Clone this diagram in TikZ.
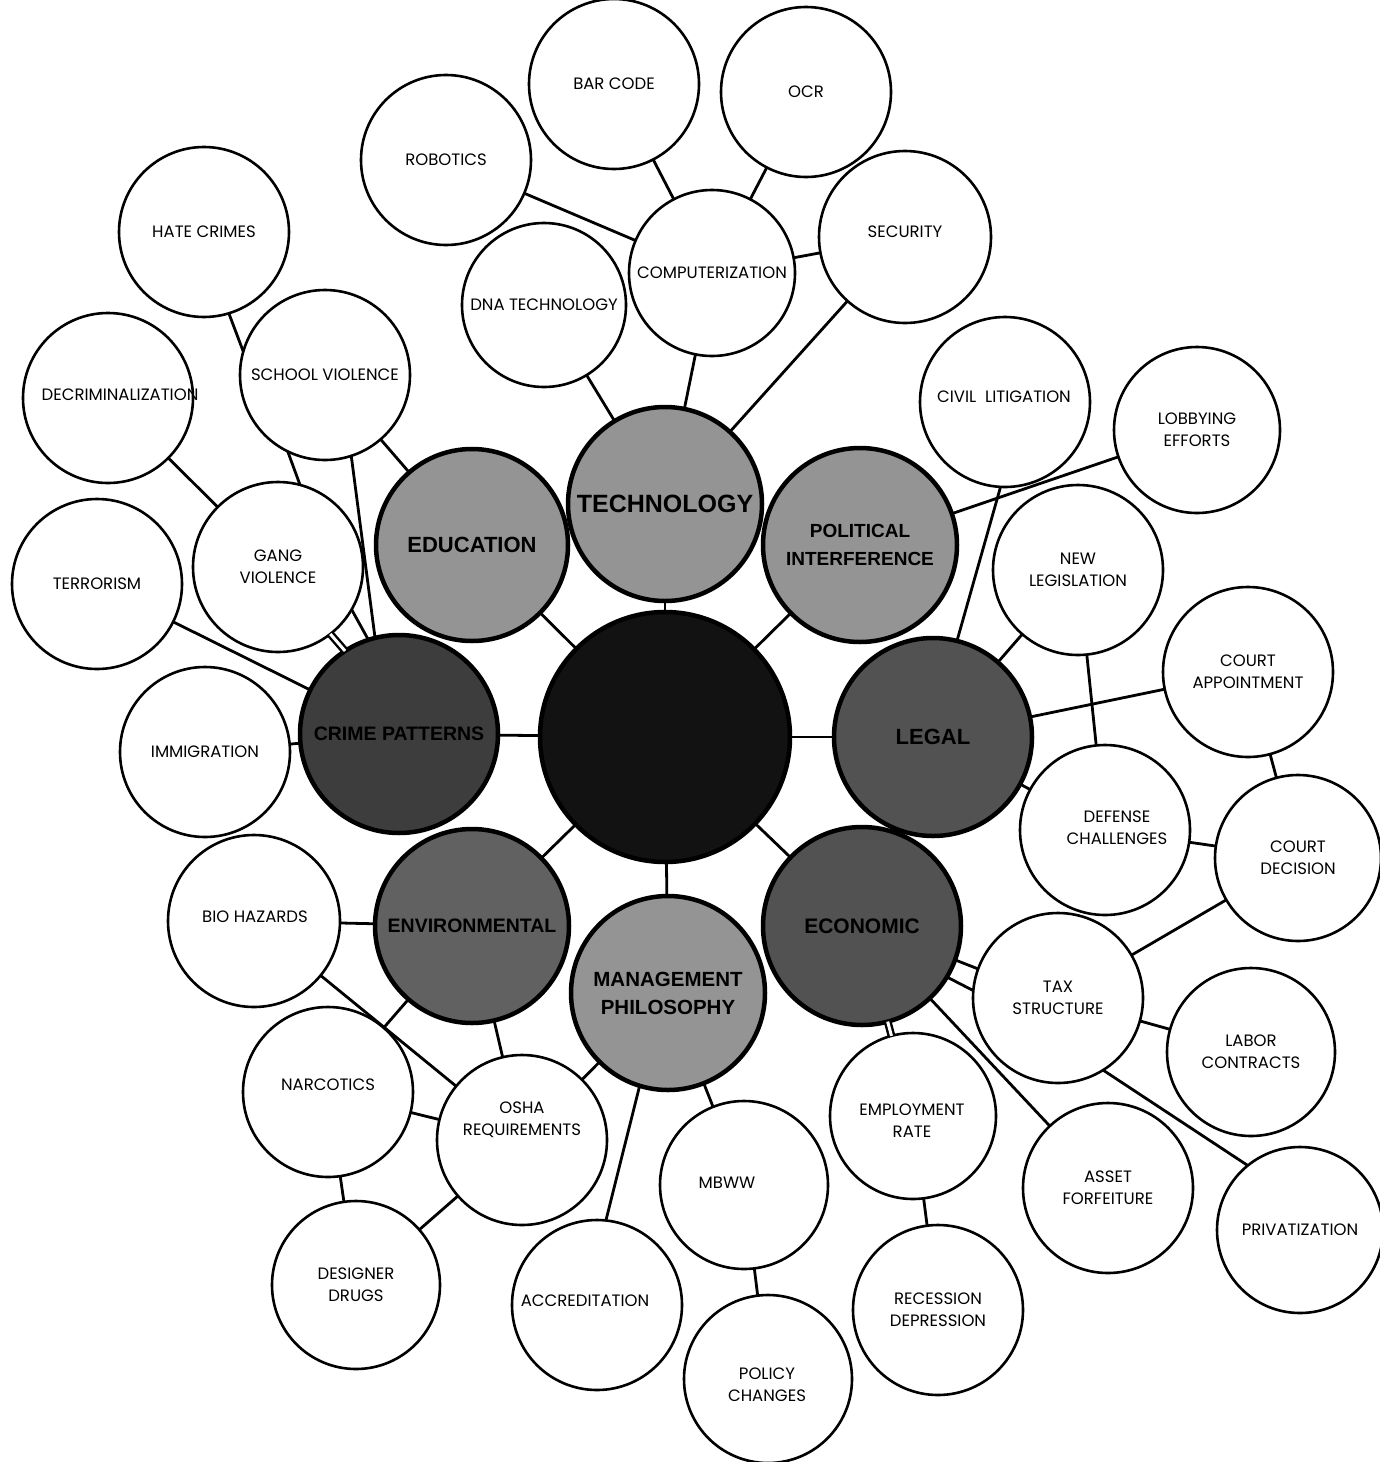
\documentclass[tikz,border=0pt]{standalone}
\usepackage{fontspec}
\newfontfamily\lblfont{Poppins}
\newfontfamily\hubfont{Liberation Sans}
\begin{document}
\begin{tikzpicture}[x=1pt,y=-1pt,
  outer/.style={circle,draw=black,line width=2.6pt,fill=white,inner sep=0pt,outer sep=0pt,
    align=center,font=\lblfont\fontsize{16.5}{22}\selectfont},
  hub/.style={circle,draw=black,line width=4.5pt,inner sep=0pt,outer sep=0pt,minimum size=194pt,
    align=center,text=black},
  hf/.style={font=\hubfont\bfseries\fontsize{#1}{#1*1.25}\selectfont},
  lighthub/.style={hub,fill=black!42},
  darkhub/.style={hub,fill=black!68},
  conn/.style={line width=2.8pt,black},
  dconn/.style={line width=2.4pt,double=white,double distance=3pt,black},
  otxt/.style={font=\lblfont\fontsize{16.5}{22}\selectfont,align=center,inner sep=0pt}
]
\useasboundingbox (0,0) rectangle (1379,1462);
\fill[white] (0,0) rectangle (1379,1462);

% hubs
\node[hub,fill=black!93,minimum size=250pt] (center) at (665,737) {};
\node[lighthub,font=\hubfont\bfseries\fontsize{25}{30}\selectfont] (tech) at (665,504) {TECHNOLOGY};
\node[lighthub,minimum size=192pt,font=\hubfont\bfseries\fontsize{22}{27}\selectfont] (edu) at (472,545) {EDUCATION};
\node[lighthub,font=\hubfont\bfseries\fontsize{19}{28}\selectfont] (pol) at (860,545) {POLITICAL\\INTERFERENCE};
\node[darkhub,minimum size=198pt,fill=black!76,font=\hubfont\bfseries\fontsize{19.5}{24}\selectfont] (crime) at (399,734) {CRIME PATTERNS};
\node[darkhub,minimum size=198pt,font=\hubfont\bfseries\fontsize{22}{27}\selectfont] (legal) at (933,737) {LEGAL};
\node[darkhub,minimum size=198pt,font=\hubfont\bfseries\fontsize{21}{26}\selectfont] (econ) at (862,926) {ECONOMIC};
\node[lighthub,font=\hubfont\bfseries\fontsize{20.5}{28}\selectfont] (mgmt) at (668,993) {MANAGEMENT\\PHILOSOPHY};
\node[darkhub,fill=black!62,font=\hubfont\bfseries\fontsize{19.5}{24}\selectfont] (env) at (472,926) {ENVIRONMENTAL};

% outer nodes
\node[outer,minimum size=170pt] (bar) at (614,84) {BAR CODE};
\node[outer,minimum size=170pt] (ocr) at (806,92) {OCR};
\node[outer,minimum size=170pt] (robot) at (446,160) {ROBOTICS};
\node[outer,minimum size=166pt] (comp) at (712,273) {COMPUTERIZATION};
\node[outer,minimum size=172pt] (sec) at (905,237) {};
\node[otxt] (sec-t) at (905,232) {SECURITY};
\node[outer,minimum size=164pt] (dna) at (544,305) {DNA TECHNOLOGY};
\node[outer,minimum size=170pt] (hate) at (204,232) {HATE CRIMES};
\node[outer,minimum size=170pt] (school) at (325,375) {SCHOOL VIOLENCE};
\node[outer,minimum size=170pt] (decrim) at (108,398) {};
\node[otxt] (decrim-t) at (120,395) {DECRIMINALIZATION};
\node[outer,minimum size=170pt] (gang) at (278,567) {GANG\\VIOLENCE};
\node[outer,minimum size=170pt] (terror) at (97,584) {TERRORISM};
\node[outer,minimum size=170pt] (immig) at (205,752) {IMMIGRATION};
\node[outer,minimum size=170pt] (civil) at (1005,402) {};
\node[otxt] (civil-t) at (1004,397) {CIVIL~~LITIGATION};
\node[outer,minimum size=166pt] (lobby) at (1197,430) {LOBBYING\\EFFORTS};
\node[outer,minimum size=170pt] (newleg) at (1078,570) {NEW\\LEGISLATION};
\node[outer,minimum size=170pt] (courtapp) at (1248,672) {COURT\\APPOINTMENT};
\node[outer,minimum size=170pt] (defense) at (1105,830) {};
\node[otxt] (defense-t) at (1117,828) {DEFENSE\\CHALLENGES};
\node[outer,minimum size=166pt] (courtdec) at (1298,858) {COURT\\DECISION};
\node[outer,minimum size=170pt] (tax) at (1058,998) {TAX\\STRUCTURE};
\node[outer,minimum size=168pt] (labor) at (1251,1052) {LABOR\\CONTRACTS};
\node[outer,minimum size=166pt] (employ) at (913,1116) {};
\node[otxt] (employ-t) at (912,1121) {EMPLOYMENT\\RATE};
\node[outer,minimum size=170pt] (asset) at (1108,1188) {ASSET\\FORFEITURE};
\node[outer,minimum size=166pt] (priv) at (1300,1230) {PRIVATIZATION};
\node[outer,minimum size=170pt] (recess) at (938,1310) {RECESSION\\DEPRESSION};
\node[outer,minimum size=168pt] (mbww) at (744,1185) {};
\node[otxt] (mbww-t) at (727,1183) {MBWW};
\node[outer,minimum size=168pt] (policy) at (768,1379) {};
\node[otxt] (policy-t) at (767,1385) {POLICY\\CHANGES};
\node[outer,minimum size=170pt] (accred) at (597,1305) {};
\node[otxt] (accred-t) at (585,1301) {ACCREDITATION};
\node[outer,minimum size=168pt] (designer) at (356,1285) {DESIGNER\\DRUGS};
\node[outer,minimum size=170pt] (osha) at (522,1140) {};
\node[otxt] (osha-t) at (522,1120) {OSHA\\REQUIREMENTS};
\node[outer,minimum size=170pt] (narc) at (328,1092) {};
\node[otxt] (narc-t) at (328,1085) {NARCOTICS};
\node[outer,minimum size=172pt] (bio) at (254,921) {};
\node[otxt] (bio-t) at (255,917) {BIO HAZARDS};

% ---- connectors ----
\draw[conn] (center) -- (tech);
\draw[conn] (center) -- (edu);
\draw[conn] (center) -- (pol);
\draw[conn] (center) -- (crime);
\draw[conn] (center) -- (legal);
\draw[conn] (center) -- (env);
\draw[conn] (center) -- (mgmt);
\draw[conn] (center) -- (econ);

\draw[conn] (tech) -- (comp);
\draw[conn] (tech) -- (sec);
\draw[conn] (tech) -- (dna);
\draw[conn] (tech) -- (edu);
\draw[conn] (comp) -- (robot);
\draw[conn] (comp) -- (bar);
\draw[conn] (comp) -- (ocr);
\draw[conn] (comp) -- (sec);

\draw[conn] (edu) -- (school);
\draw[conn] (hate.-73) -- (school.164);
\draw[conn] (school.-116) -- (gang.75);
\draw[conn] (school.-72) -- (crime.104);
\draw[conn] (gang.-30) -- (crime.108);
\draw[dconn] (gang.-52) -- (crime.123);
\draw[conn] (decrim) -- (gang);
\draw[conn] (terror) -- (crime);
\draw[conn] (immig) -- (crime);

\draw[conn] (pol) -- (lobby);
\draw[conn] (civil.267) -- (legal.76);
\draw[conn] (newleg) -- (legal);
\draw[conn] (courtapp) -- (legal);
\draw[conn] (newleg) -- (defense);
\draw[conn] (legal) -- (defense);
\draw[conn] (courtapp) -- (courtdec);
\draw[conn] (defense) -- (courtdec);
\draw[conn] (tax) -- (courtdec);
\draw[conn] (tax) -- (labor);
\draw[conn] (tax.-58) -- (priv.129);
\draw[conn] (econ.-20) -- (tax.160);
\draw[conn] (econ.-31) -- (tax.175);
\draw[conn] (econ) -- (asset);
\draw[dconn] (econ) -- (employ);
\draw[conn] (employ) -- (recess);

\draw[conn] (mgmt) -- (mbww);
\draw[conn] (mgmt.-107) -- (accred.84);
\draw[conn] (mgmt) -- (osha);
\draw[conn] (mbww) -- (policy);

\draw[conn] (env) -- (bio);
\draw[conn] (env) -- (osha);
\draw[conn] (env) -- (narc);
\draw[conn] (bio) -- (osha);
\draw[conn] (narc) -- (osha);
\draw[conn] (designer) -- (osha);
\draw[conn] (narc) -- (designer);
\end{tikzpicture}
\end{document}
